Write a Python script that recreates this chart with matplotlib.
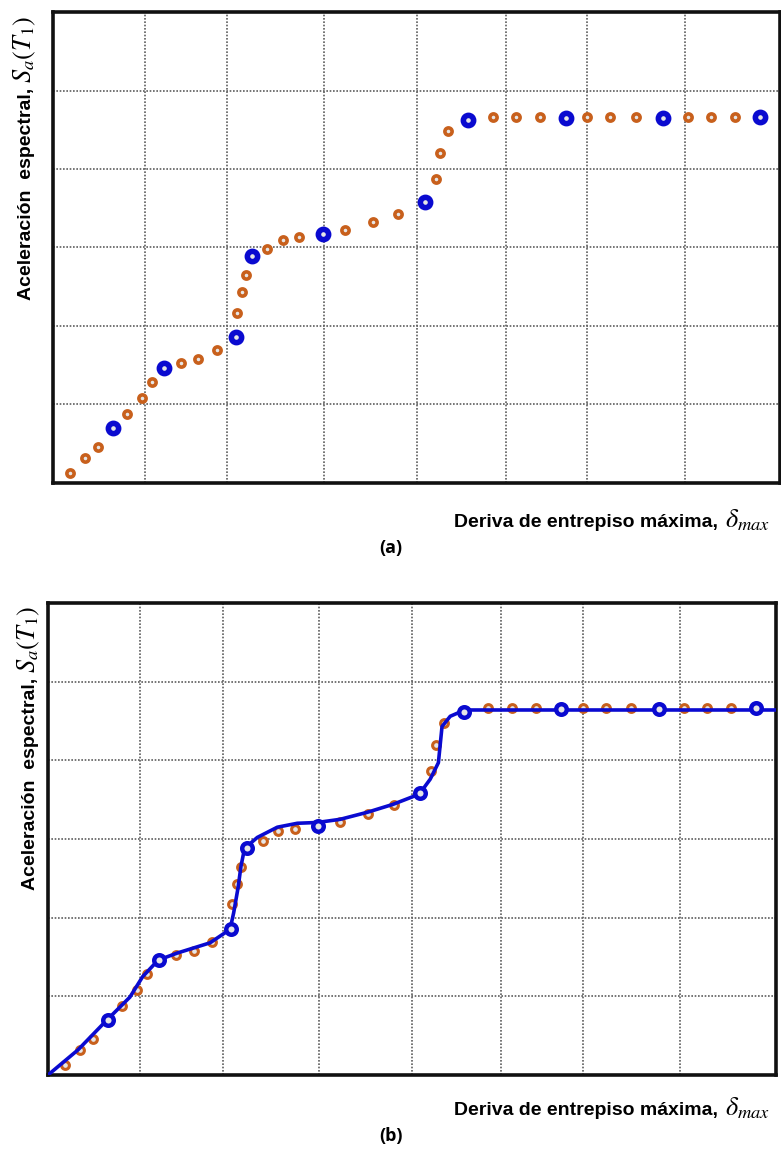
import matplotlib
matplotlib.use('Agg')
import matplotlib.pyplot as plt

# orange: all analysis points, blue: selected points (same in both panels)
orange_x = [0.19, 0.35, 0.49, 0.81, 0.98, 1.09, 1.41, 1.60, 1.80, 2.02,
            2.08, 2.12, 2.36, 2.53, 2.71, 3.21, 3.52, 3.80, 4.21, 4.26,
            4.35, 4.84, 5.10, 5.36, 5.88, 6.13, 6.41, 6.99, 7.24, 7.51]
orange_y = [0.13, 0.32, 0.46, 0.88, 1.08, 1.29, 1.53, 1.58, 1.69, 2.17,
            2.43, 2.65, 2.98, 3.10, 3.13, 3.22, 3.32, 3.43, 3.87, 4.20,
            4.48, 4.66, 4.66, 4.66, 4.66, 4.66, 4.66, 4.66, 4.66, 4.66]

blue_x = [0.66, 1.22, 2.01, 2.19, 2.97, 4.09, 4.57, 5.64, 6.71, 7.78]
blue_y = [0.70, 1.46, 1.86, 2.89, 3.17, 3.58, 4.62, 4.65, 4.65, 4.66]

# fitted curve of panel (b)
curve_x = [0.00, 0.33, 0.64, 0.90, 1.04, 1.21, 1.42, 1.78, 2.00, 2.04,
           2.09, 2.12, 2.16, 2.30, 2.52, 2.74, 2.96, 3.21, 3.51, 3.79,
           4.08, 4.20, 4.29, 4.33, 4.42, 4.58, 8.10]
curve_y = [0.00, 0.32, 0.69, 0.99, 1.25, 1.46, 1.55, 1.68, 1.85, 2.06,
           2.39, 2.65, 2.88, 3.02, 3.15, 3.20, 3.21, 3.25, 3.34, 3.44,
           3.57, 3.76, 3.97, 4.43, 4.56, 4.64, 4.64]

grid_x = [1.01, 1.92, 2.98, 4.00, 4.98, 5.88, 6.95]
grid_y = [1, 2, 3, 4, 5]

X_MAX, Y_MAX = 8.0, 6.0

ORANGE = '#c8601c'
BLUE = '#0a0ad0'
LABEL_FONT = ['Liberation Sans', 'DejaVu Sans']
LABEL_SIZE = 14
MATH_SIZE = 19

plt.rcParams['mathtext.fontset'] = 'stix'

W, H = 781, 1150
fig = plt.figure(figsize=(W / 100, H / 100), dpi=100)


def px_axes(left, top, right, bottom):
    return fig.add_axes([left / W, 1 - bottom / H, (right - left) / W, (bottom - top) / H])


def style_axes(ax):
    ax.set_xlim(0, X_MAX)
    ax.set_ylim(0, Y_MAX)
    ax.set_xticks(grid_x)
    ax.set_yticks(grid_y)
    ax.tick_params(length=0, labelbottom=False, labelleft=False)
    ax.grid(True, color='#5e5e5e', linestyle=(0, (1, 1)), linewidth=1.2)
    ax.set_axisbelow(True)
    for sp in ax.spines.values():
        sp.set_linewidth(2.6)
        sp.set_color('#111111')


def draw_points(ax, orange_ms, orange_mew, blue_ms, blue_mew):
    ax.plot(orange_x, orange_y, 'o', ms=orange_ms, mew=orange_mew,
            mec=ORANGE, mfc='#e6e6e6', zorder=3)
    ax.plot(blue_x, blue_y, 'o', ms=blue_ms, mew=blue_mew,
            mec=BLUE, mfc='#e6e6e6', zorder=5)


def label_pair(text, math, x_px, y_px, rot, gap=7):
    """Bold text followed by a larger math symbol; anchor = end of the math part."""
    renderer = fig.canvas.get_renderer()
    m = fig.text(x_px / W, 1 - y_px / H, math, rotation=rot, rotation_mode='anchor',
                 ha='right', va='baseline', fontsize=MATH_SIZE)
    bb = m.get_window_extent(renderer)
    if rot == 0:
        nx, ny = bb.x0 - gap, H - y_px
    else:
        nx, ny = x_px, bb.y0 - gap
    fig.text(nx / W, ny / H, text, rotation=rot, rotation_mode='anchor',
             ha='right', va='baseline', fontsize=LABEL_SIZE, fontweight='bold',
             family=LABEL_FONT)


# ---- panel (a) ----
ax_a = px_axes(53, 12, 780, 483)
style_axes(ax_a)
draw_points(ax_a, 5.2, 2.6, 7.4, 4.0)

# ---- panel (b) ----
ax_b = px_axes(48, 603, 776, 1075)
style_axes(ax_b)
draw_points(ax_b, 5.6, 2.2, 7.6, 3.2)
ax_b.plot(curve_x, curve_y, color=BLUE, lw=2.6, solid_joinstyle='round',
          solid_capstyle='round', zorder=4)

# ---- texts ----
fig.canvas.draw()
label_pair('Aceleración  espectral,', '$S_a(T_1)$', 31, 16, 90, gap=5)
label_pair('Aceleración  espectral,', '$S_a(T_1)$', 35, 606, 90, gap=5)
label_pair('Deriva de entrepiso máxima,', '$\\delta_{max}$', 770, 527, 0)
label_pair('Deriva de entrepiso máxima,', '$\\delta_{max}$', 770, 1115, 0)

fig.text(391 / W, 1 - 548 / H, '(a)', ha='center', va='center',
         fontsize=13, fontweight='bold', family=['Open Sans', 'DejaVu Sans'])
fig.text(391 / W, 1 - 1136 / H, '(b)', ha='center', va='center',
         fontsize=13, fontweight='bold', family=['Open Sans', 'DejaVu Sans'])

fig.savefig('out.png', dpi=100)
